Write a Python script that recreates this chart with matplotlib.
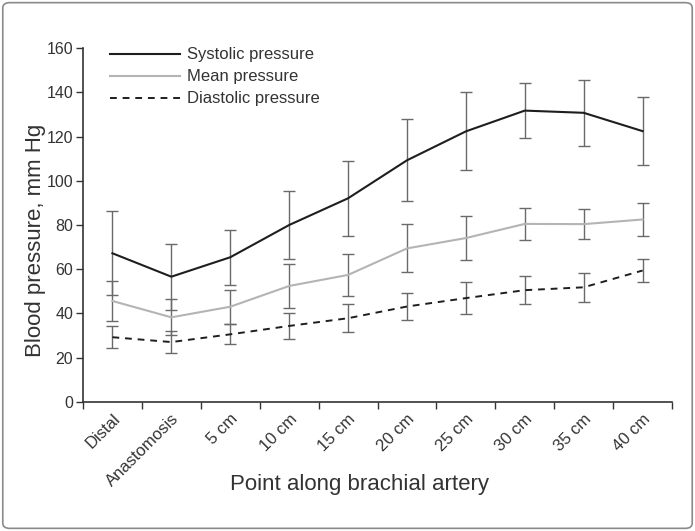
import matplotlib
matplotlib.use("Agg")
import matplotlib.pyplot as plt
from matplotlib.patches import FancyBboxPatch
import numpy as np

plt.rcParams['font.family'] = ['Liberation Sans', 'DejaVu Sans']

points = ["Distal", "Anastomosis", "5 cm", "10 cm", "15 cm", "20 cm",
          "25 cm", "30 cm", "35 cm", "40 cm"]

systolic = [67.2, 56.6, 65.4, 80.0, 92.1, 109.3, 122.4, 131.8, 130.8, 122.5]
systolic_sd = [19.0, 15.0, 12.4, 15.3, 17.0, 18.6, 17.7, 12.5, 14.9, 15.5]

mean = [45.6, 38.2, 43.0, 52.4, 57.4, 69.4, 74.1, 80.5, 80.4, 82.5]
mean_sd = [9.0, 8.2, 7.8, 9.8, 9.6, 10.9, 10.0, 7.3, 6.7, 7.6]

diastolic = [29.2, 27.0, 30.5, 34.3, 37.8, 43.1, 46.9, 50.5, 51.8, 59.4]
diastolic_sd = [5.0, 5.0, 4.5, 6.0, 6.3, 6.2, 7.1, 6.2, 6.5, 5.3]

fig = plt.figure(figsize=(6.95, 5.31), dpi=100)
ax = fig.add_axes([0.1194, 0.2435, 0.8476, 0.6655])

x = np.arange(len(points)) + 0.5
err_kw = dict(fmt="none", ecolor="#6a6a6a", elinewidth=1.0, capsize=4.5,
              capthick=1.0, zorder=2)

ax.errorbar(x, systolic, yerr=systolic_sd, **err_kw)
ax.errorbar(x, mean, yerr=mean_sd, **err_kw)
ax.errorbar(x, diastolic, yerr=diastolic_sd, **err_kw)

ax.plot(x, systolic, color="#1e1e1e", lw=1.5, label="Systolic pressure", zorder=3)
ax.plot(x, mean, color="#b4b4b4", lw=1.5, label="Mean pressure", zorder=3)
ax.plot(x, diastolic, color="#1e1e1e", lw=1.4, ls=(0, (3.5, 3)),
        label="Diastolic pressure", zorder=3)

ax.set_xlim(0, len(points))
ax.set_ylim(0, 160)
ax.set_yticks(range(0, 161, 20))
ax.set_xticks(np.arange(len(points) + 1))
ax.set_xticklabels([])
ax.set_xticks(x, minor=True)
ax.set_xticklabels(points, minor=True, rotation=45, ha="right",
                   rotation_mode="anchor", fontsize=12, color="#333333")
ax.tick_params(axis="x", which="minor", length=0, pad=7)
ax.tick_params(axis="both", which="major", length=5, width=1.0,
               color="#333333", labelsize=11.5, labelcolor="#333333", pad=2)

for s in ["top", "right"]:
    ax.spines[s].set_visible(False)
for s in ["left", "bottom"]:
    ax.spines[s].set_color("#333333")
    ax.spines[s].set_linewidth(1.2)

ax.set_ylabel("Blood pressure, mm Hg", fontsize=16, color="#333333")
ax.set_xlabel("Point along brachial artery", fontsize=16, color="#333333")
ax.yaxis.set_label_coords(-0.062, 0.457)
ax.xaxis.set_label_coords(0.47, -0.205)

ax.legend(loc="upper left", bbox_to_anchor=(0.02, 1.045), frameon=False,
          handlelength=4.2, handletextpad=0.45, fontsize=12, labelspacing=0.42,
          labelcolor="#333333")

border = FancyBboxPatch((0.004, 0.005), 0.992, 0.99,
                        boxstyle="round,pad=0,rounding_size=0.01",
                        transform=fig.transFigure, fill=False,
                        edgecolor="#8a8a8a", lw=1.2)
fig.patches.append(border)

fig.savefig("out.png", dpi=100)
